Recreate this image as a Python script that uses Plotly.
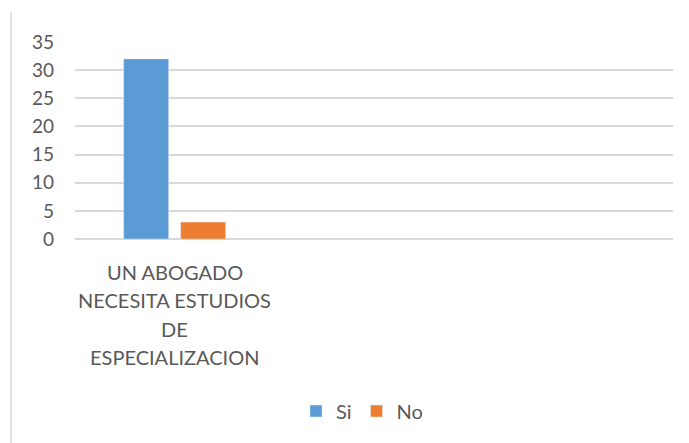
import plotly.graph_objects as go

categories = ["UN ABOGADO NECESITA ESTUDIOS DE ESPECIALIZACION"]
label_lines = ["UN ABOGADO", "NECESITA ESTUDIOS", "DE", "ESPECIALIZACION"]
si_values = [32]
no_values = [3]
y_ticks = [0, 5, 10, 15, 20, 25, 30, 35]

FONT = "Lato"
TXT = "#595959"

OFF = 8  # page body margin
W, H = 689 - OFF, 443 - OFF
L, R, T, B = 75 - OFF, 689 - 673, 42 - OFF, 443 - 239
pw, ph = W - L - R, H - T - B


def py(ref_y):
    return (H - B - (ref_y - OFF)) / ph


def px(ref_x):
    return ((ref_x - OFF) - L) / pw


fig = go.Figure()
fig.add_trace(go.Bar(name="Si", x=categories, y=si_values, marker_color="#5b9bd5"))
fig.add_trace(go.Bar(name="No", x=categories, y=no_values, marker_color="#ed7d31"))

for i, line in enumerate(label_lines):
    fig.add_annotation(x=categories[0], xref="x", y=py(272 + i * 28.3), yref="paper",
                       text=line, showarrow=False, yanchor="middle", xanchor="center",
                       font=dict(family=FONT, size=20, color=TXT))

fig.add_shape(type="line", xref="paper", yref="paper",
              x0=px(11), x1=px(11), y0=py(12), y1=py(450),
              line=dict(color="#d9d9d9", width=1.5))

fig.update_layout(
    width=W, height=H,
    margin=dict(l=L, r=R, t=T, b=B),
    paper_bgcolor="white", plot_bgcolor="white",
    barmode="group", bargap=0.428, bargroupgap=0.21,
    font=dict(family=FONT, size=19, color=TXT),
    showlegend=True,
    legend=dict(orientation="h", x=px(296), xanchor="left", y=py(411), yanchor="middle",
                font=dict(family=FONT, size=20, color=TXT), itemwidth=30,
                traceorder="normal"),
    xaxis=dict(range=[-0.5, 2.5], showticklabels=False, showline=False, showgrid=False,
               zeroline=False, fixedrange=True),
    yaxis=dict(range=[0, 35], tickvals=y_ticks, showgrid=True, gridcolor="#d9d9d9", gridwidth=1.5,
               zeroline=True, zerolinecolor="#d9d9d9", zerolinewidth=1.5, showline=False,
               ticklabelstandoff=20, tickfont=dict(family=FONT, size=19, color=TXT)),
)

fig.write_html("out.html")
